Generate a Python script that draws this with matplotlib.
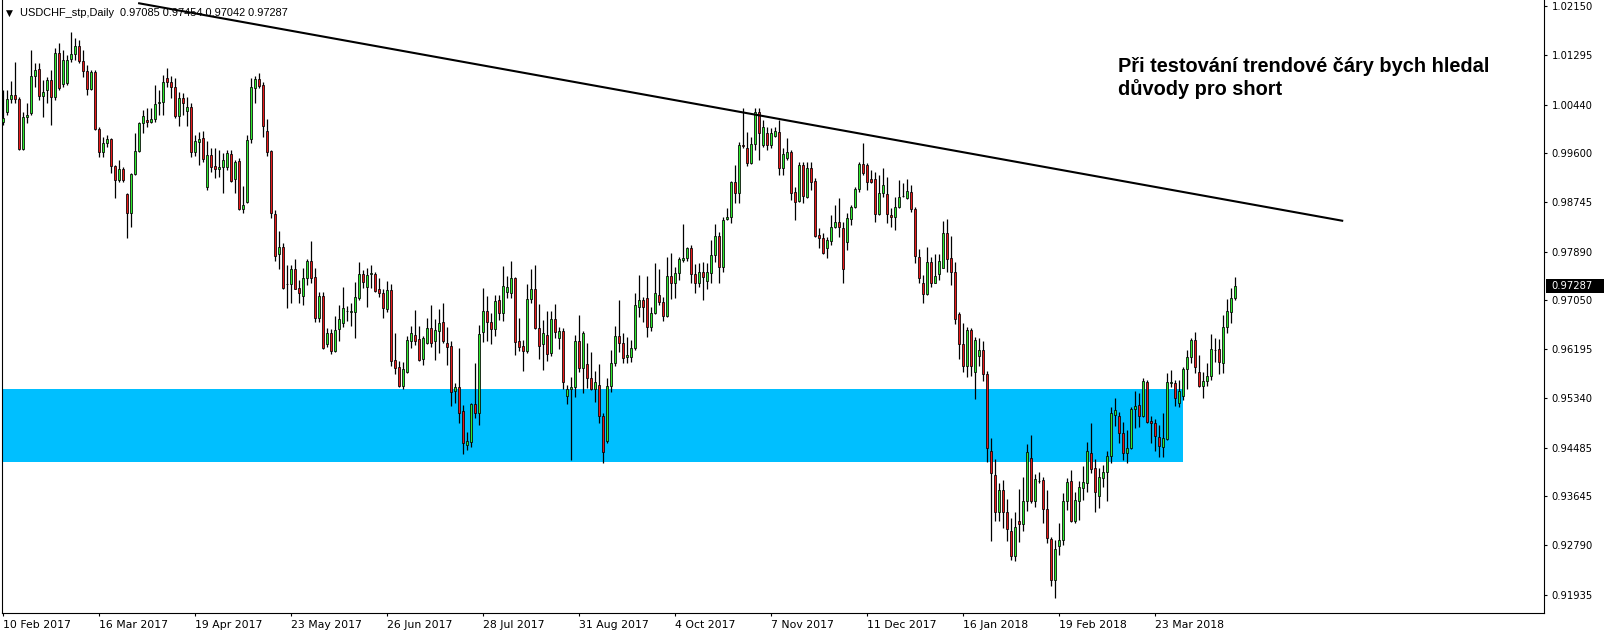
import numpy as np
import matplotlib.pyplot as plt
from matplotlib.patches import Rectangle

symbol = 'USDCHF_stp,Daily'

# daily OHLC, bar 0 = 10 Feb 2017
opens = [
    1.00143, 1.00305, 1.00531, 1.00600, 1.00537, 0.99669, 1.00230, 1.00288, 1.00930, 1.01051,
    1.00594, 1.00687, 1.00860, 1.00565, 1.01340, 1.00797, 1.00808, 1.01225, 1.01317, 1.01456,
    1.01196, 1.01016, 1.00704, 1.01011, 1.00022, 0.99611, 0.99779, 0.99837, 0.99374, 0.99125,
    0.99316, 0.98888, 0.98553, 0.99235, 0.99634, 1.00120, 1.00172, 1.00132, 1.00190, 1.00462,
    1.00491, 1.00895, 1.00838, 1.00751, 1.00248, 1.00548, 1.00334, 1.00404, 0.99612, 0.99797,
    0.99854, 0.99016, 0.99560, 0.99375, 0.99317, 0.99363, 0.99351, 0.99577, 0.99143, 0.99461,
    0.98623, 0.98756, 0.99837, 1.00722, 1.00878, 1.00780, 0.99982, 0.99635, 0.98536, 0.97848,
    0.97963, 0.97322, 0.97322, 0.97582, 0.97258, 0.97125, 0.97426, 0.97726, 0.97449, 0.96731,
    0.97119, 0.96280, 0.96471, 0.96171, 0.96541, 0.96656, 0.96859, 0.96847, 0.96836, 0.97090,
    0.97495, 0.97281, 0.97501, 0.97495, 0.97235, 0.97165, 0.96888, 0.97223, 0.96009, 0.95893,
    0.95563, 0.95806, 0.96344, 0.96437, 0.96367, 0.96020, 0.96309, 0.96558, 0.96344, 0.96518,
    0.96662, 0.96298, 0.96246, 0.95477, 0.95534, 0.95118, 0.94534, 0.94592, 0.95245, 0.95083,
    0.96489, 0.96859, 0.96662, 0.96541, 0.97050, 0.96818, 0.97194, 0.97165, 0.97431, 0.96338,
    0.96251, 0.96171, 0.97061, 0.97235, 0.96558, 0.96280, 0.96437, 0.96124, 0.96714, 0.96385,
    0.96512, 0.95384, 0.95500, 0.95534, 0.96338, 0.95864, 0.95934, 0.95691, 0.95500, 0.95575,
    0.95043, 0.94609, 0.95560, 0.95950, 0.96425, 0.96309, 0.96066, 0.96055, 0.96211, 0.96934,
    0.97050, 0.97078, 0.96575, 0.96818, 0.97136, 0.97009, 0.96772, 0.97466, 0.97350, 0.97524,
    0.97744, 0.97773, 0.97946, 0.97495, 0.97339, 0.97530, 0.97385, 0.97524, 0.97830, 0.98160,
    0.97616, 0.98449, 0.98484, 0.99091, 0.98912, 0.99739, 0.99681, 0.99421, 0.99756, 1.00317,
    0.99738, 0.99952, 0.99738, 0.99900, 0.99958, 0.99345, 0.99507, 0.99611, 0.98923, 0.98773,
    0.99391, 0.98830, 0.99333, 0.99114, 0.98177, 0.98119, 0.97946, 0.98079, 0.98310, 0.98397,
    0.98293, 0.98061, 0.98455, 0.98657, 0.98969, 0.99409, 0.99391, 0.99143, 0.99143, 0.98535,
    0.98900, 0.98882, 0.98524, 0.98483, 0.98657, 0.98848, 0.98825, 0.98930, 0.98622, 0.97789,
    0.97338, 0.97147, 0.97703, 0.97350, 0.97494, 0.97610, 0.98211, 0.97772, 0.97541, 0.96806,
    0.96280, 0.95910, 0.96529, 0.95806, 0.96083, 0.96182, 0.95765, 0.94429, 0.94007, 0.93365,
    0.93753, 0.93365, 0.93042, 0.92608, 0.93215, 0.93157, 0.93562, 0.94302, 0.93562, 0.93909,
    0.93927, 0.93418, 0.92897, 0.92191, 0.92781, 0.92885, 0.93568, 0.93909, 0.93221, 0.93568,
    0.93782, 0.93880, 0.94389, 0.94129, 0.93654, 0.93967, 0.94059, 0.94343, 0.95054, 0.95037,
    0.94736, 0.94389, 0.94487, 0.95152, 0.95222, 0.95042, 0.95621, 0.94950, 0.94909, 0.94666,
    0.94493, 0.94632, 0.95603, 0.95603, 0.95256, 0.95389, 0.95852, 0.96066, 0.96355, 0.95794,
    0.95563, 0.95644, 0.95731, 0.96176, 0.96193, 0.95950, 0.96575, 0.96835, 0.97085,
]
highs = [
    1.00693, 1.00693, 1.00849, 1.01184, 1.00577, 1.00317, 1.00461, 1.01387, 1.01167, 1.01155,
    1.00866, 1.00924, 1.01040, 1.01427, 1.01502, 1.01387, 1.01300, 1.01705, 1.01589, 1.01560,
    1.01387, 1.01126, 1.01040, 1.01040, 1.00056, 0.99883, 0.99912, 0.99854, 0.99391, 0.99478,
    0.99363, 0.98900, 0.99247, 0.99941, 1.00143, 1.00346, 1.00375, 1.00375, 1.00779, 1.00693,
    1.00953, 1.01069, 1.00936, 1.00895, 1.00664, 1.00635, 1.00577, 1.00462, 0.99912, 0.99970,
    0.99982, 0.99808, 0.99681, 0.99681, 0.99652, 0.99606, 0.99652, 0.99652, 0.99479, 0.99508,
    0.99028, 0.99912, 1.00895, 1.00936, 1.00982, 1.00838, 1.00184, 0.99652, 0.98611, 0.98247,
    0.98033, 0.97657, 0.97657, 0.97761, 0.97397, 0.97599, 0.97761, 0.98073, 0.97599, 0.97194,
    0.97194, 0.96558, 0.96547, 0.96772, 0.96963, 0.97281, 0.96946, 0.97003, 0.97368, 0.97703,
    0.97570, 0.97599, 0.97657, 0.97541, 0.97425, 0.97235, 0.97379, 0.97327, 0.96471, 0.95991,
    0.95980, 0.96425, 0.96598, 0.96876, 0.96598, 0.96425, 0.96731, 0.96963, 0.96714, 0.96888,
    0.97003, 0.96587, 0.96338, 0.95604, 0.96211, 0.95228, 0.94765, 0.95257, 0.95951, 0.96616,
    0.97252, 0.97125, 0.96818, 0.97136, 0.97136, 0.97639, 0.97466, 0.97726, 0.97454, 0.96743,
    0.96356, 0.97327, 0.97582, 0.97657, 0.96980, 0.96703, 0.96865, 0.96859, 0.96980, 0.96587,
    0.96570, 0.95575, 0.95720, 0.96442, 0.96789, 0.96518, 0.96298, 0.96153, 0.95818, 0.95934,
    0.95095, 0.95702, 0.96180, 0.96598, 0.97050, 0.96471, 0.96402, 0.96356, 0.97165, 0.97483,
    0.97107, 0.97466, 0.96922, 0.97686, 0.97582, 0.97107, 0.97801, 0.97859, 0.97628, 0.97801,
    0.98368, 0.97975, 0.98004, 0.97668, 0.97686, 0.97715, 0.97686, 0.98091, 0.98362, 0.98235,
    0.98495, 0.98640, 0.99120, 0.99392, 0.99797, 1.00375, 0.99970, 0.99883, 1.00375, 1.00375,
    1.00172, 1.00056, 1.00027, 1.00045, 1.00172, 0.99680, 0.99854, 0.99652, 0.99015, 0.99449,
    0.99449, 0.99449, 0.99449, 0.99160, 0.98293, 0.98206, 0.98148, 0.98524, 0.98697, 0.98813,
    0.98408, 0.98553, 0.98697, 0.99015, 0.99449, 0.99767, 0.99420, 0.99305, 0.99276, 0.99218,
    0.99333, 0.99189, 0.98640, 0.98842, 0.99131, 0.99073, 0.99143, 0.99050, 0.98668, 0.97928,
    0.97483, 0.97974, 0.97801, 0.97847, 0.97847, 0.98420, 0.98454, 0.98160, 0.97714, 0.96847,
    0.96656, 0.96587, 0.96558, 0.96402, 0.96384, 0.96338, 0.95817, 0.94661, 0.94285, 0.93869,
    0.93926, 0.93591, 0.93261, 0.93377, 0.93770, 0.93984, 0.94551, 0.94707, 0.94025, 0.94071,
    0.93984, 0.93753, 0.92943, 0.92885, 0.93186, 0.93707, 0.93955, 0.94100, 0.93724, 0.93909,
    0.94169, 0.94591, 0.94909, 0.94285, 0.94129, 0.94187, 0.94429, 0.95199, 0.95355, 0.95112,
    0.94927, 0.94794, 0.95199, 0.95476, 0.95430, 0.95690, 0.95661, 0.95037, 0.94979, 0.94880,
    0.95083, 0.95777, 0.95835, 0.95661, 0.95661, 0.95893, 0.96182, 0.96384, 0.96500, 0.96095,
    0.95806, 0.95962, 0.96459, 0.96384, 0.96372, 0.96789, 0.97061, 0.97251, 0.97454,
]
lows = [
    1.00085, 1.00259, 1.00461, 1.00461, 0.99652, 0.99652, 1.00114, 1.00259, 1.00750, 1.00519,
    1.00230, 1.00461, 1.00085, 1.00519, 1.00693, 1.00750, 1.00779, 1.01184, 1.01213, 1.01155,
    1.00924, 1.00606, 1.00693, 0.99999, 0.99536, 0.99536, 0.99710, 0.99247, 0.98813, 0.99102,
    0.99102, 0.98119, 0.98322, 0.99218, 0.99623, 0.99941, 1.00056, 1.00114, 1.00143, 1.00259,
    1.00259, 1.00751, 1.00548, 1.00201, 1.00068, 1.00259, 1.00068, 0.99536, 0.99548, 0.99392,
    0.99450, 0.98958, 0.99276, 0.99161, 0.99178, 0.98912, 0.99305, 0.99103, 0.98900, 0.98611,
    0.98565, 0.98727, 0.99768, 1.00473, 1.00722, 0.99872, 0.99548, 0.98467, 0.97732, 0.97582,
    0.97235, 0.96905, 0.97004, 0.97235, 0.96992, 0.96963, 0.97310, 0.97339, 0.96674, 0.96674,
    0.96205, 0.96240, 0.96113, 0.96153, 0.96344, 0.96587, 0.96691, 0.96599, 0.96396, 0.97050,
    0.97252, 0.96934, 0.97252, 0.97194, 0.97107, 0.96743, 0.96847, 0.95905, 0.95766, 0.95546,
    0.95500, 0.95789, 0.96211, 0.96269, 0.95991, 0.95922, 0.96286, 0.96228, 0.96009, 0.96136,
    0.96298, 0.95922, 0.95216, 0.95268, 0.94921, 0.94372, 0.94447, 0.94494, 0.94997, 0.94881,
    0.96327, 0.96344, 0.96286, 0.96431, 0.96703, 0.96691, 0.97090, 0.97079, 0.96095, 0.96171,
    0.95824, 0.96136, 0.97003, 0.96541, 0.96026, 0.95835, 0.95997, 0.96078, 0.96396, 0.96194,
    0.95506, 0.95251, 0.94274, 0.95372, 0.95806, 0.95442, 0.95517, 0.95488, 0.95274, 0.94921,
    0.94216, 0.94574, 0.95450, 0.95900, 0.96153, 0.95950, 0.95950, 0.95980, 0.96182, 0.96760,
    0.96674, 0.96413, 0.96512, 0.96807, 0.96963, 0.96691, 0.96760, 0.97061, 0.97079, 0.97397,
    0.97715, 0.97732, 0.97339, 0.97165, 0.97269, 0.97050, 0.97235, 0.97350, 0.97715, 0.97350,
    0.97541, 0.98438, 0.98380, 0.98738, 0.98738, 0.99681, 0.99375, 0.99409, 0.99652, 0.99478,
    0.99709, 0.99652, 0.99680, 0.99883, 0.99218, 0.99218, 0.99478, 0.98784, 0.98437, 0.98755,
    0.98738, 0.98813, 0.98957, 0.98148, 0.97946, 0.97847, 0.97772, 0.98003, 0.98293, 0.98148,
    0.97338, 0.97917, 0.98350, 0.98640, 0.98929, 0.99218, 0.98957, 0.99073, 0.98408, 0.98524,
    0.98842, 0.98379, 0.98321, 0.98264, 0.98640, 0.98830, 0.98807, 0.98582, 0.97697, 0.97338,
    0.96991, 0.97136, 0.97280, 0.97338, 0.97396, 0.97599, 0.97541, 0.97309, 0.96633, 0.96020,
    0.95806, 0.95719, 0.95736, 0.95332, 0.95904, 0.95644, 0.94244, 0.92874, 0.93221, 0.93221,
    0.93088, 0.92874, 0.92538, 0.92527, 0.92856, 0.93047, 0.93394, 0.93521, 0.93463, 0.93880,
    0.93186, 0.92839, 0.92087, 0.91873, 0.92625, 0.92800, 0.93406, 0.93200, 0.93180, 0.93232,
    0.93579, 0.93724, 0.94042, 0.93377, 0.93446, 0.93811, 0.93568, 0.94215, 0.94869, 0.94562,
    0.94273, 0.94227, 0.94458, 0.94822, 0.94852, 0.95014, 0.94909, 0.94574, 0.94429, 0.94319,
    0.94331, 0.94620, 0.95546, 0.95216, 0.95199, 0.95314, 0.95499, 0.95962, 0.95777, 0.95546,
    0.95343, 0.95557, 0.95661, 0.95979, 0.95759, 0.95788, 0.96482, 0.96656, 0.97042,
]
closes = [
    1.00201, 1.00537, 1.00600, 1.00531, 0.99669, 1.00230, 1.00253, 1.00930, 1.01034, 1.00583,
    1.00652, 1.00860, 1.00565, 1.01329, 1.00722, 1.01207, 1.01213, 1.01317, 1.01456, 1.01196,
    1.01022, 1.00704, 1.01011, 1.00016, 0.99611, 0.99767, 0.99837, 0.99380, 0.99125, 0.99316,
    0.99125, 0.98553, 0.99235, 0.99634, 1.00120, 1.00236, 1.00138, 1.00190, 1.00456, 1.00491,
    1.00838, 1.00838, 1.00739, 1.00248, 1.00548, 1.00473, 1.00392, 0.99612, 0.99808, 0.99837,
    0.99490, 0.99560, 0.99363, 0.99317, 0.99351, 0.99479, 0.99594, 0.99120, 0.99438, 0.98623,
    0.98698, 0.99826, 1.00739, 1.00878, 1.00762, 1.00074, 0.99612, 0.98565, 0.97819, 0.97963,
    0.97258, 0.97330, 0.97582, 0.97246, 0.97177, 0.97426, 0.97726, 0.97437, 0.96731, 0.97119,
    0.96223, 0.96471, 0.96171, 0.96529, 0.96714, 0.96905, 0.96865, 0.96853, 0.97096, 0.97495,
    0.97368, 0.97478, 0.97512, 0.97211, 0.97165, 0.96917, 0.97223, 0.95997, 0.95864, 0.95563,
    0.95847, 0.96356, 0.96471, 0.96344, 0.96009, 0.96385, 0.96558, 0.96309, 0.96529, 0.96656,
    0.96344, 0.96240, 0.95459, 0.95534, 0.95095, 0.94563, 0.94603, 0.95245, 0.95083, 0.96460,
    0.96859, 0.96662, 0.96541, 0.97032, 0.96818, 0.97292, 0.97275, 0.97431, 0.96327, 0.96240,
    0.96171, 0.97061, 0.97235, 0.96558, 0.96257, 0.96471, 0.96107, 0.96714, 0.96500, 0.96512,
    0.95621, 0.95500, 0.95534, 0.96338, 0.95864, 0.96471, 0.95691, 0.95500, 0.95621, 0.95043,
    0.94407, 0.95558, 0.95950, 0.96425, 0.96309, 0.96038, 0.96090, 0.96211, 0.96963, 0.97050,
    0.96922, 0.96575, 0.96818, 0.97165, 0.97009, 0.96778, 0.97466, 0.97350, 0.97524, 0.97755,
    0.97773, 0.97946, 0.97495, 0.97339, 0.97530, 0.97443, 0.97530, 0.97830, 0.98160, 0.97616,
    0.98438, 0.98484, 0.99091, 0.98912, 0.99739, 0.99722, 0.99421, 0.99756, 1.00306, 0.99952,
    1.00056, 0.99738, 0.99941, 0.99981, 0.99345, 0.99576, 0.99611, 0.98911, 0.98755, 0.99391,
    0.98853, 0.99333, 0.99102, 0.98160, 0.98119, 0.97859, 0.98090, 0.98310, 0.98397, 0.98310,
    0.97581, 0.98466, 0.98657, 0.98969, 0.99409, 0.99247, 0.99102, 0.99102, 0.98535, 0.98900,
    0.99044, 0.98535, 0.98483, 0.98657, 0.98830, 0.98859, 0.98940, 0.98622, 0.97818, 0.97437,
    0.97147, 0.97703, 0.97350, 0.97465, 0.97726, 0.98211, 0.97760, 0.97541, 0.96714, 0.96280,
    0.95910, 0.96529, 0.95904, 0.96355, 0.96182, 0.95760, 0.94487, 0.94053, 0.93365, 0.93753,
    0.93365, 0.93070, 0.92614, 0.93105, 0.93157, 0.93562, 0.94406, 0.93562, 0.93938, 0.93915,
    0.93418, 0.92914, 0.92191, 0.92723, 0.92885, 0.93568, 0.93897, 0.93221, 0.93579, 0.93799,
    0.93897, 0.94429, 0.94117, 0.93724, 0.93973, 0.94059, 0.94343, 0.95083, 0.95141, 0.94736,
    0.94389, 0.94476, 0.95158, 0.95210, 0.95042, 0.95644, 0.94938, 0.94909, 0.94695, 0.94522,
    0.94649, 0.95621, 0.95621, 0.95343, 0.95470, 0.95852, 0.96066, 0.96355, 0.95893, 0.95563,
    0.95644, 0.95731, 0.96193, 0.96182, 0.95968, 0.96575, 0.96858, 0.97078, 0.97287,
]

date_labels = ['10 Feb 2017', '16 Mar 2017', '19 Apr 2017', '23 May 2017', '26 Jun 2017',
               '28 Jul 2017', '31 Aug 2017', '4 Oct 2017', '7 Nov 2017', '11 Dec 2017',
               '16 Jan 2018', '19 Feb 2018', '23 Mar 2018']
label_step = 24  # bars between date labels
price_ticks = [1.02150, 1.01295, 1.00440, 0.99600, 0.98745, 0.97890, 0.97050,
               0.96195, 0.95340, 0.94485, 0.93645, 0.92790, 0.91935]

# support zone and trendline
zone_top, zone_bottom, zone_end = 0.95505, 0.94244, 294.85
trend_x = [33.7, 335.0]
trend_y = [1.02200, 0.98421]

note_lines = ['Při testování trendové čáry bych hledal', 'důvody pro short']

W, H = 1604, 637
fig = plt.figure(figsize=(W / 100, H / 100), dpi=100)
ax = fig.add_axes([2 / W, (H - 613) / H, 1542 / W, 613 / H])

o = np.array(opens)
h = np.array(highs)
l = np.array(lows)
c = np.array(closes)
x = np.arange(len(c))
up = c >= o

x_left = -0.33
ax.add_patch(Rectangle((x_left - 1, zone_bottom), zone_end - x_left + 1, zone_top - zone_bottom,
                       facecolor='#00bfff', edgecolor='none', zorder=1))

ax.vlines(x, l, h, color='black', linewidth=0.9, zorder=2)
ax.bar(x[up], (c - o)[up], bottom=o[up], width=0.55, color='#2eea2e',
       edgecolor='black', linewidth=0.55, zorder=3)
ax.bar(x[~up], (o - c)[~up], bottom=c[~up], width=0.55, color='#e81a1a',
       edgecolor='black', linewidth=0.55, zorder=3)

ax.plot(trend_x, trend_y, color='black', linewidth=1.5, zorder=4, solid_capstyle='butt')

ax.set_xlim(x_left, 385.2)
ax.set_ylim(0.91618, 1.02254)

ax.spines['top'].set_visible(False)
for s in ['left', 'right', 'bottom']:
    ax.spines[s].set_linewidth(0.8)

ax.yaxis.tick_right()
ax.set_yticks(price_ticks)
ax.set_yticklabels([f'{v:.5f}' for v in price_ticks])
ax.tick_params(axis='y', direction='out', length=2.5, width=0.8, pad=3, labelsize=7.2)

ax.set_xticks(np.arange(len(date_labels)) * label_step)
ax.set_xticklabels(date_labels)
plt.setp(ax.get_xticklabels(), ha='left')
ax.tick_params(axis='x', direction='out', length=2.5, width=0.8, pad=2.5, labelsize=7.8)

# header line
fig.text(6 / W, 1 - 13 / H, '▼', fontsize=6.5, va='center', ha='left')
fig.text(20.5 / W, 1 - 13 / H,
         f'{symbol}  {o[-1]:.5f} {h[-1]:.5f} {l[-1]:.5f} {c[-1]:.5f}',
         fontsize=7.9, family='Liberation Sans', va='center', ha='left')

# current price marker on the price axis
fig.canvas.draw()
y_pix = ax.transData.transform((0, c[-1]))[1]
fig.patches.append(Rectangle((1546 / W, (y_pix - 7) / H), 58 / W, 14 / H,
                             transform=fig.transFigure, facecolor='black', edgecolor='none'))
fig.text(1551 / W, y_pix / H, f'{c[-1]:.5f}', color='white', fontsize=7.2, va='center', ha='left')

for i, line in enumerate(note_lines):
    fig.text(1118 / W, 1 - (71.7 + 23.3 * i) / H, line, fontsize=14.4, fontweight='bold',
             family='Liberation Sans', va='baseline', ha='left')

fig.savefig('out.png', dpi=100)
